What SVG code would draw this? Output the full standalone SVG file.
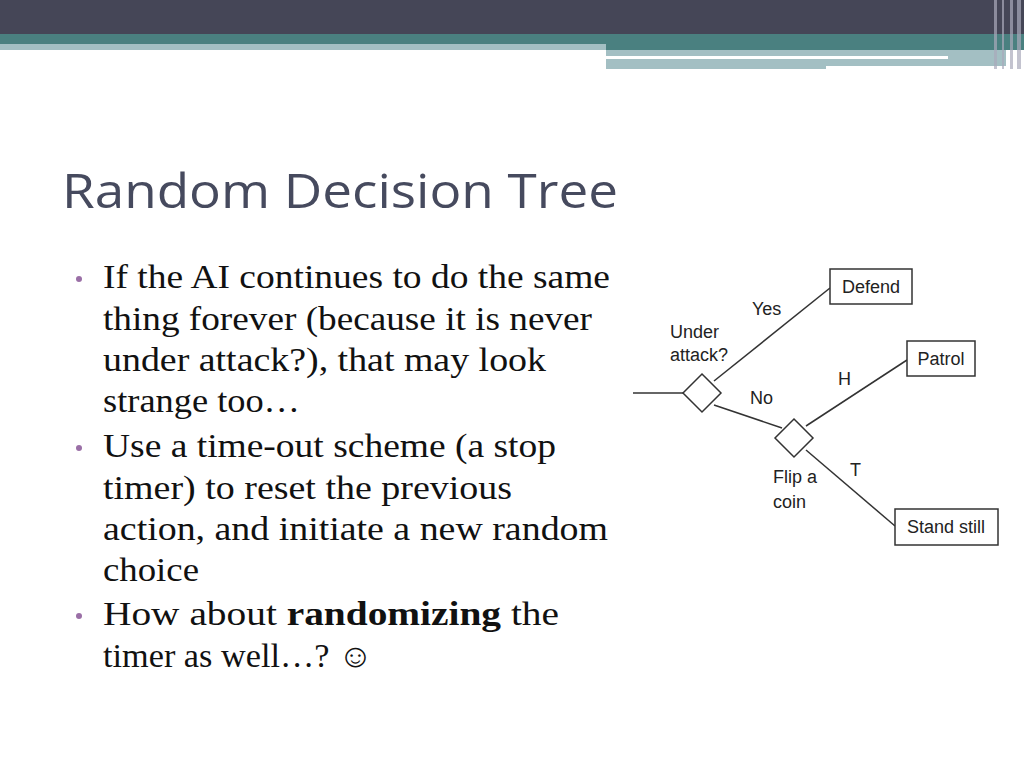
<svg xmlns="http://www.w3.org/2000/svg" width="1024" height="768" viewBox="0 0 1024 768">
<style>
.b{font-family:"Liberation Serif",serif;font-size:33px;fill:#111}
.d{fill:#9a6fa6}
.l{font-family:"Liberation Sans",Arial,sans-serif;font-size:18px;fill:#222}
.n{fill:#fff;stroke:#333;stroke-width:1.5}
.c{stroke:#333;stroke-width:1.5;fill:none}
</style>
<rect width="1024" height="768" fill="#fff"/>
<rect width="1024" height="34" fill="#454657"/>
<rect y="34" width="1024" height="16" fill="#4a8080"/>
<rect y="44" width="606" height="6" fill="#a3bfc3"/>
<rect x="606" y="50" width="400" height="19" fill="#a3bfc3"/>
<rect x="606" y="56" width="342" height="3" fill="#fff"/>
<rect x="826" y="66" width="180" height="4" fill="#fff"/>
<g fill="#aab" opacity="0.7"><rect x="994" y="0" width="3" height="69"/><rect x="1002" y="0" width="2" height="69"/><rect x="1010" y="0" width="3" height="69"/><rect x="1017" y="0" width="4" height="69"/></g>
<text x="62" y="208" font-family="Open Sans,sans-serif" font-size="48" fill="#464a5e" textLength="556" lengthAdjust="spacingAndGlyphs">Random Decision Tree</text>
<g lengthAdjust="spacingAndGlyphs">
<circle class="d" cx="79" cy="279" r="3"/><circle class="d" cx="79" cy="448" r="3"/><circle class="d" cx="79" cy="616" r="3"/>
<text class="b" x="103" y="288" textLength="507" lengthAdjust="spacingAndGlyphs">If the AI continues to do the same</text>
<text class="b" x="103" y="330" textLength="489" lengthAdjust="spacingAndGlyphs">thing forever (because it is never</text>
<text class="b" x="103" y="371" textLength="443" lengthAdjust="spacingAndGlyphs">under attack?), that may look</text>
<text class="b" x="103" y="412" textLength="197" lengthAdjust="spacingAndGlyphs">strange too…</text>
<text class="b" x="103" y="457" textLength="453" lengthAdjust="spacingAndGlyphs">Use a time-out scheme (a stop</text>
<text class="b" x="103" y="499" textLength="409" lengthAdjust="spacingAndGlyphs">timer) to reset the previous</text>
<text class="b" x="103" y="540" textLength="505" lengthAdjust="spacingAndGlyphs">action, and initiate a new random</text>
<text class="b" x="103" y="581" textLength="96" lengthAdjust="spacingAndGlyphs">choice</text>
<text class="b" x="103" y="625" textLength="456" lengthAdjust="spacingAndGlyphs">How about <tspan font-weight="bold">randomizing</tspan> the</text>
<text class="b" x="103" y="667" textLength="270" lengthAdjust="spacingAndGlyphs">timer as well…? ☺</text>
</g>
<g id="connectors">
<line class="c" x1="633" y1="393" x2="683" y2="393"/>
<line class="c" x1="714" y1="381" x2="830" y2="288"/>
<line class="c" x1="714" y1="405" x2="782" y2="428"/>
<line class="c" x1="806" y1="426" x2="907" y2="360"/>
<line class="c" x1="806" y1="450" x2="895" y2="526"/>
<text class="l" x="752" y="315">Yes</text>
<text class="l" x="750" y="404">No</text>
<text class="l" x="838" y="385">H</text>
<text class="l" x="850" y="476">T</text>
</g>
<g id="d1"><polygon class="n" points="702,374 721,393 702,412 683,393"/>
<text class="l" x="670" y="338">Under</text><text class="l" x="670" y="361">attack?</text></g>
<g id="d2"><polygon class="n" points="794,419 813,438 794,457 775,438"/>
<text class="l" x="773" y="483">Flip a</text><text class="l" x="773" y="508">coin</text></g>
<g id="defend"><rect class="n" x="830" y="269" width="82" height="35"/><text class="l" x="871" y="293" text-anchor="middle">Defend</text></g>
<g id="patrol"><rect class="n" x="907" y="341" width="68" height="35"/><text class="l" x="941" y="365" text-anchor="middle">Patrol</text></g>
<g id="stand"><rect class="n" x="895" y="509" width="103" height="36"/><text class="l" x="946" y="533" text-anchor="middle">Stand still</text></g>
</svg>
